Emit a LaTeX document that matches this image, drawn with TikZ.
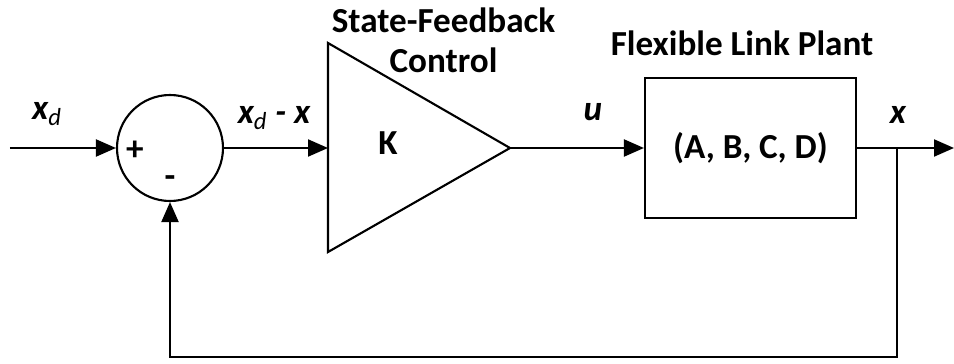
\documentclass[tikz,border=0pt]{standalone}
\usepackage{fontspec}
\setmainfont{Carlito}
\usepackage{tikz}
\usetikzlibrary{shapes,arrows.meta,positioning,calc}

\begin{document}
\begin{tikzpicture}[line width=1.2pt,
    lbl/.style={font=\fontsize{20}{22.8}\selectfont\bfseries, inner sep=0pt},
    sig/.style={font=\fontsize{20}{22.8}\selectfont\bfseries\itshape, inner sep=0pt},
    flow/.style={-{Triangle[length=0.4cm,width=0.34cm]}}]
    \useasboundingbox (0,0) rectangle (19.08,-7.28);

    \node[circle, draw, minimum size=2.12cm, inner sep=0pt] (sum) at (3.40,-2.96) {};
    \coordinate (kin) at (6.56,-2.96);
    \coordinate (ktop) at (6.56,-0.86);
    \coordinate (kbot) at (6.56,-5.04);
    \coordinate (kout) at (10.20,-2.96);
    \draw[line join=miter] (ktop) -- (kout) -- (kbot) -- cycle;
    \node[rectangle, draw, minimum width=4.22cm, minimum height=2.80cm, inner sep=0pt] (plant) at (15.01,-2.96) {};

    \coordinate (in) at (0.20,-2.96);
    \coordinate (branch) at (17.94,-2.96);
    \coordinate (out) at (19.08,-2.96);
    \coordinate (fbr) at (17.94,-7.14);
    \coordinate (fbl) at (3.40,-7.14);

    \node[lbl] (plus) at (2.70,-3.02) {+};
    \node[lbl] (minus) at (3.40,-3.64) {-};
    \node[lbl] (gain) at (7.76,-2.86) {K};
    \node[lbl] (abcd) at (15.01,-2.96) {(A, B, C, D)};
    \node[lbl, align=center] (ctrl) at (8.87,-0.80) {State-Feedback\\Control};
    \node[lbl] (plantname) at (14.84,-0.86) {Flexible Link Plant};

    \node[sig] (xd) at (0.94,-2.28) {x\textsubscript{\mdseries d}};
    \node[sig] (err) at (5.48,-2.36) {x\textsubscript{\mdseries d} - x};
    \node[sig] (u) at (11.86,-2.24) {u};
    \node[sig] (x) at (17.96,-2.30) {x};

    \draw[flow] (in) -- (sum.west);
    \draw[flow] (sum.east) -- (kin);
    \draw[flow] (kout) -- (plant.west);
    \draw[flow] (plant.east) -- (out);
    \draw[flow] (branch) -- (fbr) -- (fbl) -- (sum.south);
\end{tikzpicture}
\end{document}
